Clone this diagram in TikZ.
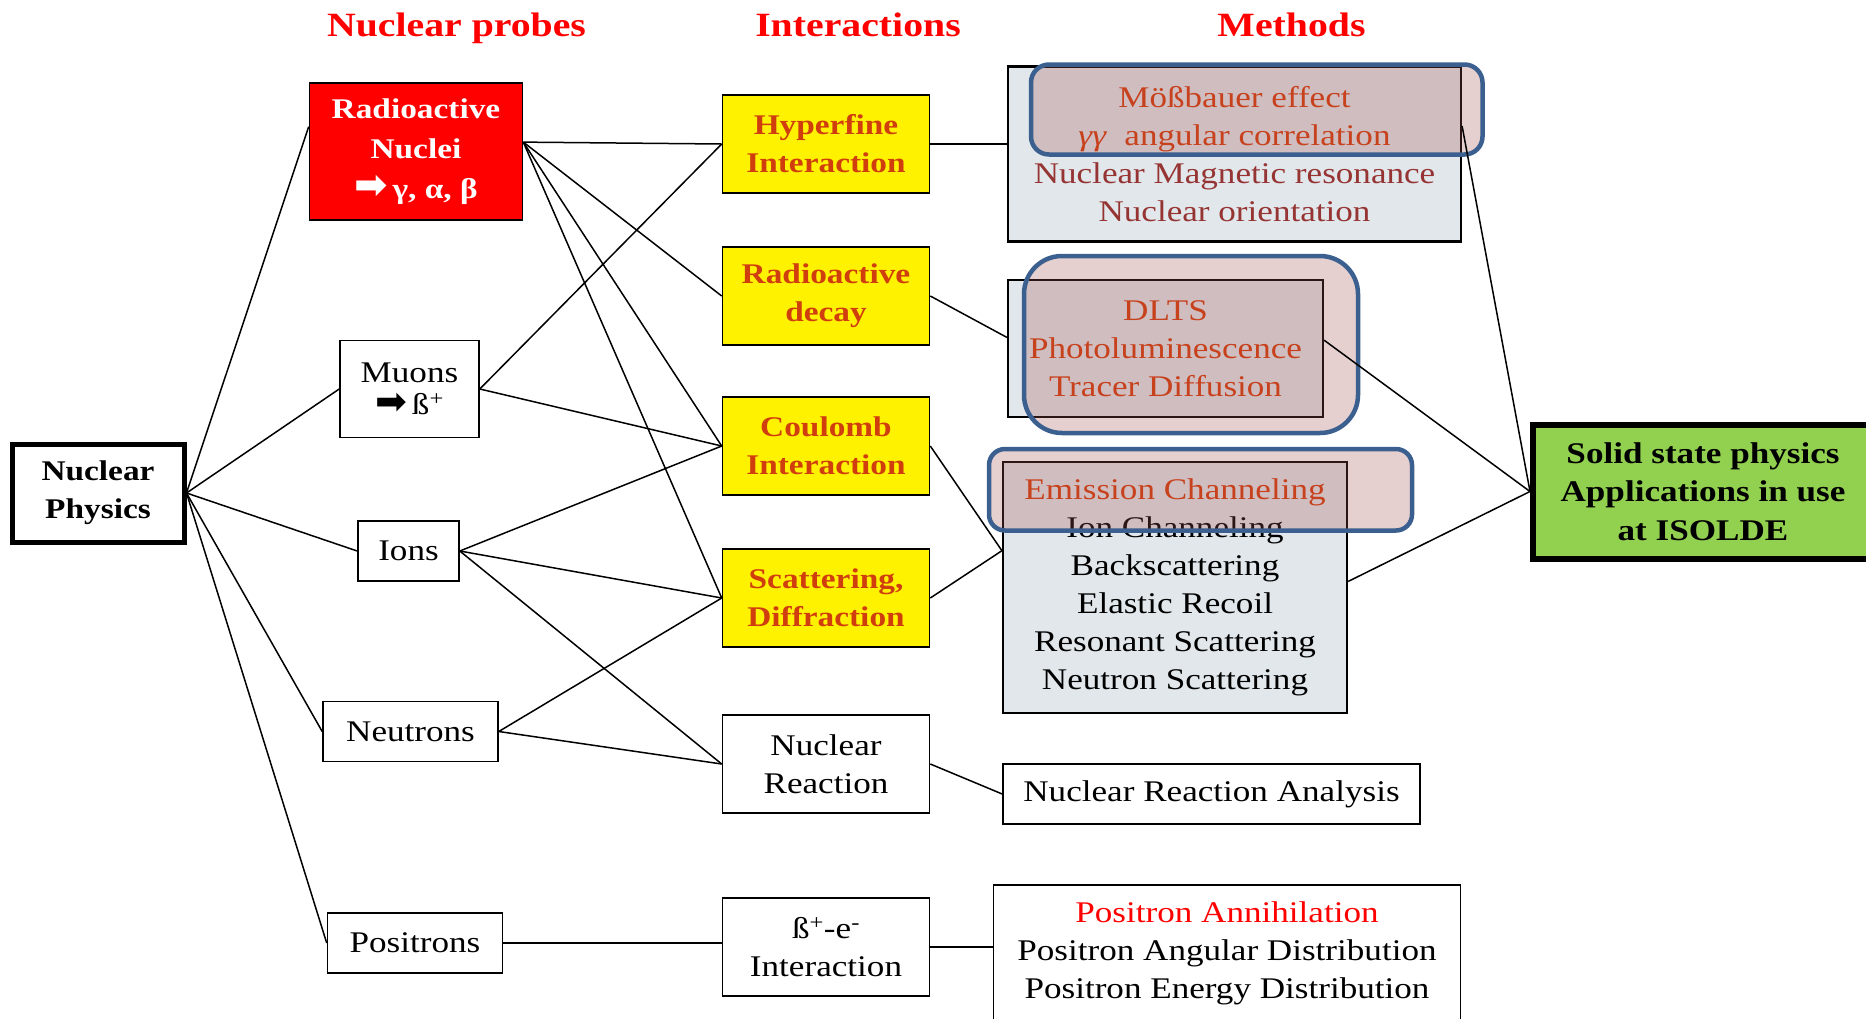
\documentclass[tikz,border=0pt]{standalone}
\usepackage{fontspec}
\setmainfont[FakeStretch=1.17]{Liberation Serif}
\newfontfamily\dingfont{DejaVu Sans}
\definecolor{titlered}{RGB}{255,0,0}
\definecolor{intertext}{RGB}{208,62,14}
\definecolor{methodgrey}{RGB}{225,231,234}
\definecolor{methodtext}{RGB}{150,52,52}
\definecolor{hottext}{RGB}{214,60,10}
\definecolor{hilitefill}{RGB}{161,79,79}
\definecolor{hiliteline}{RGB}{59,95,143}
\definecolor{isoldegreen}{RGB}{146,208,80}

\begin{document}
\begin{tikzpicture}[x=1pt,y=-1pt]
	\tikzstyle{title}=[text=titlered, font=\fontsize{34}{40}\selectfont\bfseries, anchor=base]
	\tikzstyle{box}=[draw, line width=1.6pt, inner sep=0pt, align=center, font=\fontsize{30}{38}\selectfont]
	\tikzstyle{boldbox}=[box, font=\fontsize{28.5}{38}\selectfont\bfseries]
	\tikzstyle{interbox}=[boldbox, fill=yellow, text=intertext, minimum width=207pt, minimum height=98pt]
	\tikzstyle{plainbox}=[box, minimum width=207pt, minimum height=98pt]
	\tikzstyle{methodbox}=[box, fill=methodgrey, line width=2.2pt]
	\tikzstyle{hilite}=[fill=hilitefill, fill opacity=0.27, draw=hiliteline, line width=4.5pt]
	\tikzstyle{link}=[line width=1.5pt]
	\useasboundingbox (0,0) rectangle (1866,1018);
	\clip (0,0) rectangle (1866,1018);

	\node[title] (tprobes) at (456.5,36) {Nuclear probes};
	\node[title] (tinter) at (858,36) {Interactions};
	\node[title] (tmeth) at (1291.5,36) {Methods};

	\node[boldbox, line width=5pt, minimum width=172pt, minimum height=98pt] (np) at (98,493) {Nuclear\\Physics};
	\node[boldbox, fill=red, text=white, font=\fontsize{28.5}{40}\selectfont\bfseries, minimum width=213pt, minimum height=137pt] (rn) at (416,151.5) {Radioactive\\Nuclei\\{\dingfont\fontsize{40}{40}\selectfont ➡}\,γ, α, β};
	\node[box, font=\fontsize{30}{32}\selectfont, minimum width=139pt, minimum height=97pt] (mu) at (409.5,389) {Muons\\{\dingfont\fontsize{38}{38}\selectfont ➡}\,ß\textsuperscript{+}};
	\node[box, minimum width=101pt, minimum height=60pt] (io) at (408.5,551) {Ions};
	\node[box, minimum width=175pt, minimum height=60pt] (ne) at (410.5,731.5) {Neutrons};
	\node[box, minimum width=175pt, minimum height=60pt] (po) at (415,943) {Positrons};

	\node[interbox] (hf) at (826,144) {Hyperfine\\Interaction};
	\node[interbox] (rd) at (826,296) {Radioactive\\decay};
	\node[interbox] (co) at (826,446) {Coulomb\\Interaction};
	\node[interbox] (sc) at (826,598) {Scattering,\\Diffraction};
	\node[plainbox] (nr) at (826,764) {Nuclear\\Reaction};
	\node[plainbox] (pe) at (826,947) {ß\textsuperscript{+}-e\textsuperscript{-}\\Interaction};

	\node[methodbox, text=methodtext, minimum width=453pt, minimum height=175pt] (m1) at (1234.5,154) {{\color{hottext}Mößbauer effect}\\{\color{hottext}\textit{γγ}\ \ angular correlation}\\Nuclear Magnetic resonance\\Nuclear orientation};
	\node[methodbox, text=hottext, minimum width=315pt, minimum height=137pt] (m2) at (1165.5,348.5) {DLTS\\Photoluminescence\\Tracer Diffusion};
	\node[methodbox, minimum width=344pt, minimum height=251pt] (m3) at (1175,587.5) {{\color{hottext}Emission Channeling}\\Ion Channeling\\Backscattering\\Elastic Recoil\\Resonant Scattering\\Neutron Scattering};
	\node[box, minimum width=417pt, minimum height=60pt] (nra) at (1211.5,794) {Nuclear Reaction Analysis};
	\node[box, minimum width=467pt, minimum height=137pt] (pos) at (1227,953.5) {{\color{titlered}Positron Annihilation}\\Positron Angular Distribution\\Positron Energy Distribution};
	\node[boldbox, fill=isoldegreen, line width=6pt, font=\fontsize{30}{38.5}\selectfont\bfseries, minimum width=340pt, minimum height=134pt] (ss) at (1703,491.5) {Solid state physics\\Applications in use\\at ISOLDE};

	\draw[hilite, rounded corners=18pt] (1031,64.5) rectangle (1482.5,154.5);
	\draw[hilite, rounded corners=38pt] (1024,256) rectangle (1358,433);
	\draw[hilite, rounded corners=16pt] (989,449) rectangle (1412,530.5);

	\draw[link] (np.east) -- (rn.167);
	\draw[link] (np.east) -- (mu.west);
	\draw[link] (np.east) -- (io.west);
	\draw[link] (np.east) -- (ne.west);
	\draw[link] (np.east) -- (po.west);
	\draw[link] (rn.5) -- (hf.west);
	\draw[link] (rn.5) -- (rd.west);
	\draw[link] (rn.5) -- (co.west);
	\draw[link] (rn.5) -- (sc.west);
	\draw[link] (mu.east) -- (hf.west);
	\draw[link] (mu.east) -- (co.west);
	\draw[link] (io.east) -- (co.west);
	\draw[link] (io.east) -- (sc.west);
	\draw[link] (io.east) -- (nr.west);
	\draw[link] (ne.east) -- (sc.west);
	\draw[link] (ne.east) -- (nr.west);
	\draw[link] (po.east) -- (po.east -| pe.west);
	\draw[link] (hf.east) -- (hf.east -| m1.west);
	\draw[link] (rd.east) -- (m2.176);
	\draw[link] (co.east) -- (m3.168);
	\draw[link] (sc.east) -- (m3.168);
	\draw[link] (nr.east) -- (nra.west);
	\draw[link] (pe.east) -- (pe.east -| pos.west);
	\draw[link] (m1.7) -- (ss.west);
	\draw[link] (m2.3) -- (ss.west);
	\draw[link] (m3.2) -- (ss.west);
\end{tikzpicture}
\end{document}
